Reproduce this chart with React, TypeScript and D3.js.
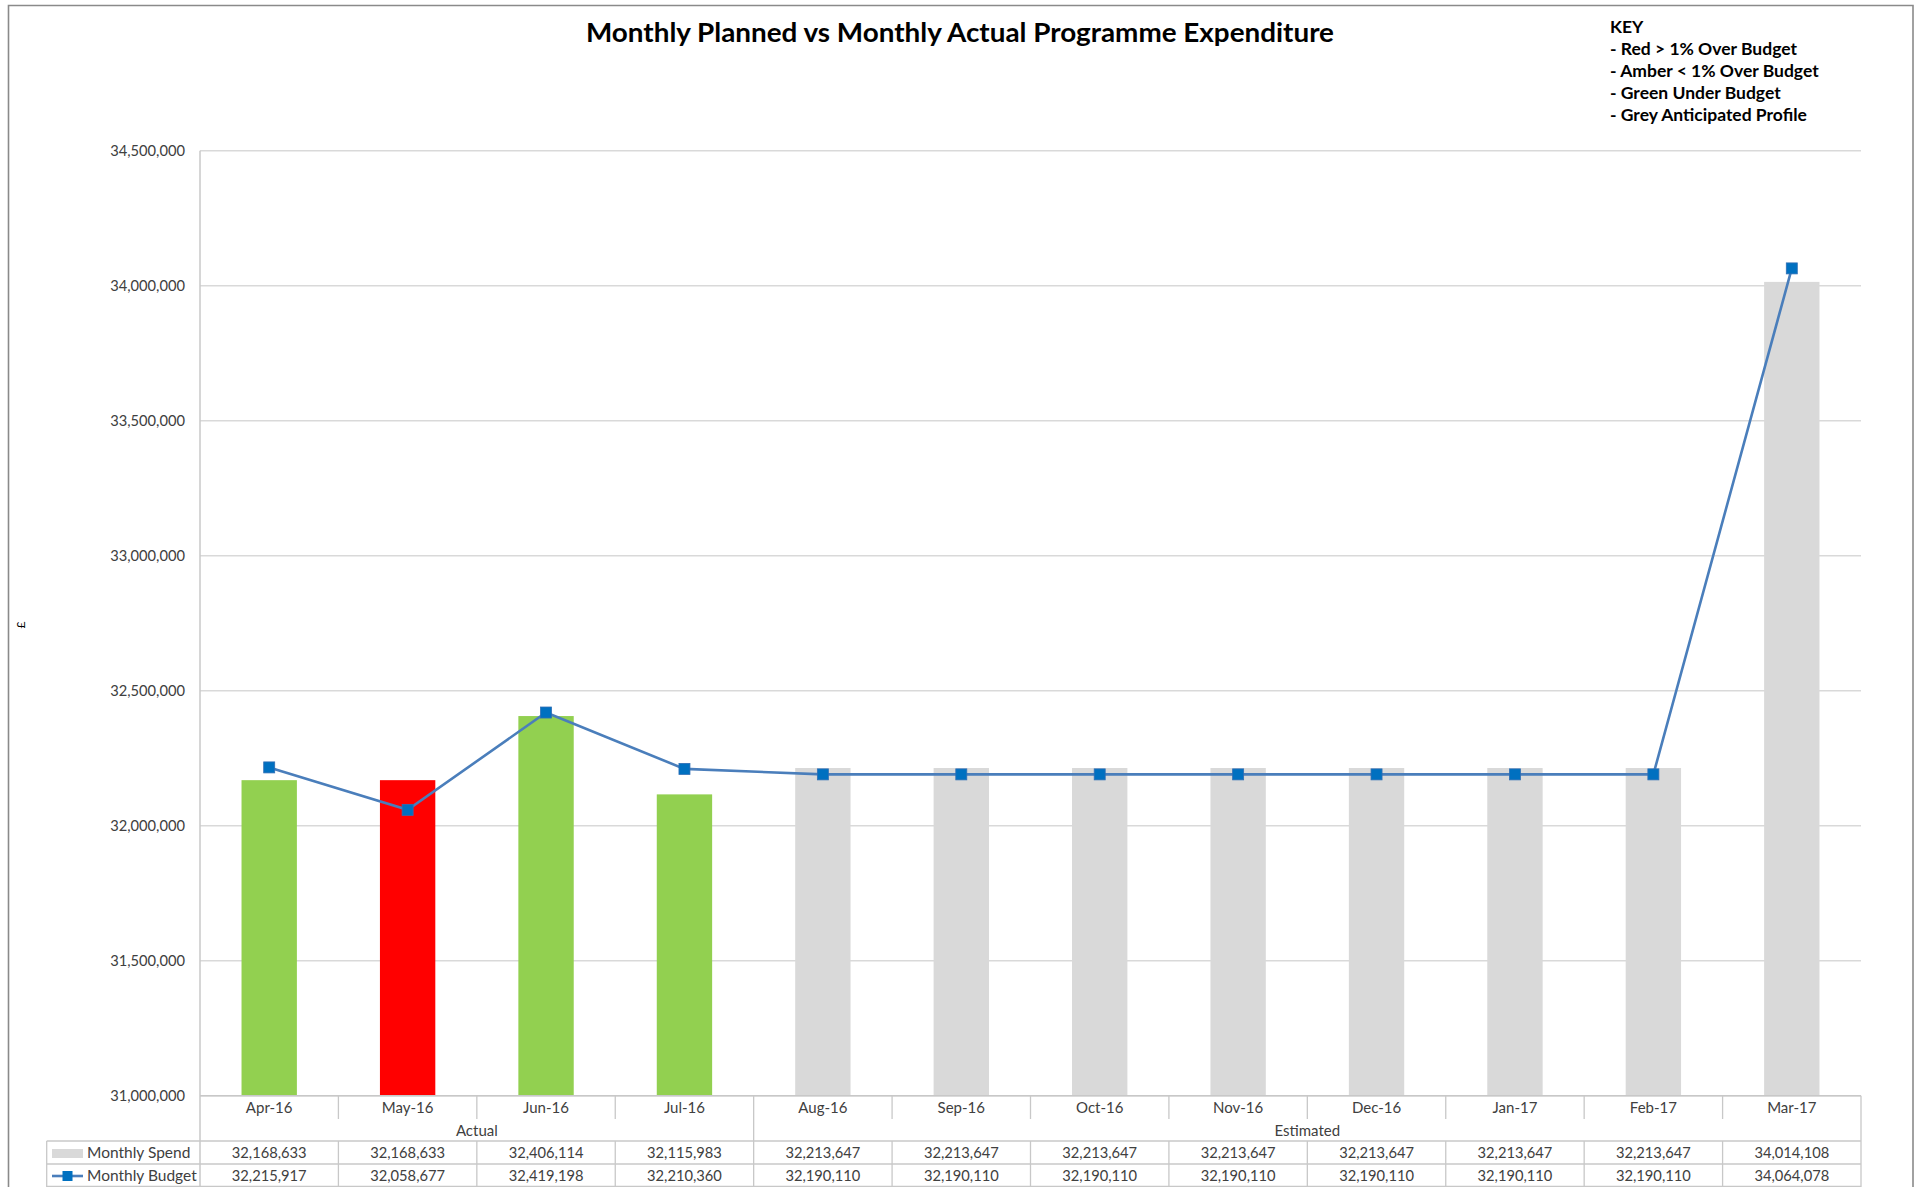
import React from "react";
import * as d3 from "d3";

// Programme expenditure by month
const months = [
  "Apr-16", "May-16", "Jun-16", "Jul-16", "Aug-16", "Sep-16",
  "Oct-16", "Nov-16", "Dec-16", "Jan-17", "Feb-17", "Mar-17",
];
const monthlySpend = [
  32168633, 32168633, 32406114, 32115983, 32213647, 32213647,
  32213647, 32213647, 32213647, 32213647, 32213647, 34014108,
];
const monthlyBudget = [
  32215917, 32058677, 32419198, 32210360, 32190110, 32190110,
  32190110, 32190110, 32190110, 32190110, 32190110, 34064078,
];
// RAG status of each month's spend
const spendStatus = [
  "under", "over", "under", "under", "anticipated", "anticipated",
  "anticipated", "anticipated", "anticipated", "anticipated", "anticipated", "anticipated",
];
const periodGroups = [
  { label: "Actual", from: 0, to: 3 },
  { label: "Estimated", from: 4, to: 11 },
];
const yTicks = [31000000, 31500000, 32000000, 32500000, 33000000, 33500000, 34000000, 34500000];
const keyLines = [
  "KEY",
  "- Red > 1% Over Budget",
  "- Amber < 1% Over Budget",
  "- Green Under Budget",
  "- Grey Anticipated Profile",
];

const statusColour: Record<string, string> = {
  over: "#FF0000",
  amber: "#FFC000",
  under: "#92D050",
  anticipated: "#D9D9D9",
};

const W = 1921;
const H = 1187;
const FONT = "Lato, 'Open Sans', sans-serif";
const TEXT = "#404040";
const GRID = "#D9D9D9";
const TABLE_LINE = "#C8C8C8";
const LINE_BLUE = "#4A7EBB";
const MARKER_BLUE = "#0070C0";

export default function App() {
  const plotLeft = 200;
  const plotRight = 1861;
  const plotTop = 150.7;
  const plotBottom = 1095.7;

  const x = d3
    .scaleBand<string>()
    .domain(months)
    .range([plotLeft, plotRight])
    .paddingInner(0.6)
    .paddingOuter(0.3);
  const step = x.step();
  const y = d3.scaleLinear().domain([31000000, 34500000]).range([plotBottom, plotTop]);
  const fmt = d3.format(",");
  const cx = (m: string) => (x(m) as number) + x.bandwidth() / 2;

  const budgetPath = d3
    .line<number>()
    .x((_, i) => cx(months[i]))
    .y((v) => y(v))(monthlyBudget) as string;

  // table geometry
  const catLabelY = 1108;
  const tickEnd = 1119;
  const groupLabelY = 1131;
  const tableTop = 1141;
  const rowMid = 1164;
  const tableBottom = 1187;
  const tableLeft = 46.7;
  const spendY = 1153;
  const budgetY = 1176;

  const boundaries = d3.range(0, months.length + 1).map((i) => plotLeft + i * step);
  const groupEdges = new Set<number>([0, ...periodGroups.map((g) => g.to + 1)]);

  return (
    <svg
      width={W}
      height={H}
      style={{ position: "fixed", left: 0, top: 0, background: "#fff" }}
      fontFamily={FONT}
    >
      <rect x={0} y={0} width={W} height={H} fill="#fff" />
      {/* chart frame */}
      <path
        d={`M8.5,${H + 2} L8.5,5.5 L1913,5.5 L1913,${H + 2}`}
        fill="none"
        stroke="#8A8A8A"
        strokeWidth={1.6}
      />

      {/* title */}
      <text
        x={960}
        y={42}
        textAnchor="middle"
        fontSize={27}
        fontWeight={700}
        fill="#000"
        textLength={748}
        lengthAdjust="spacingAndGlyphs"
      >
        Monthly Planned vs Monthly Actual Programme Expenditure
      </text>

      {/* key */}
      {keyLines.map((t, i) => (
        <text key={t} x={1610} y={33 + i * 22} fontSize={17.5} fontWeight={700} fill="#000">
          {t}
        </text>
      ))}

      {/* gridlines and y tick labels */}
      {yTicks.map((t) => (
        <g key={t}>
          <line x1={plotLeft} x2={plotRight} y1={y(t)} y2={y(t)} stroke={GRID} strokeWidth={1.5} />
          <text x={185} y={y(t)} dy="0.35em" textAnchor="end" fontSize={14.7} fill={TEXT}>
            {fmt(t)}
          </text>
        </g>
      ))}
      <text
        transform={`translate(25,625) rotate(-90)`}
        textAnchor="middle"
        fontSize={12}
        fill="#000"
      >
        £
      </text>

      {/* spend bars */}
      {months.map((m, i) => (
        <rect
          key={m}
          x={x(m)}
          y={y(monthlySpend[i])}
          width={x.bandwidth()}
          height={plotBottom - y(monthlySpend[i])}
          fill={statusColour[spendStatus[i]]}
        />
      ))}

      {/* budget line */}
      <path d={budgetPath} fill="none" stroke={LINE_BLUE} strokeWidth={2.6} />
      {monthlyBudget.map((v, i) => (
        <rect
          key={i}
          x={cx(months[i]) - 5.5}
          y={y(v) - 5.5}
          width={11}
          height={11}
          fill={MARKER_BLUE}
          stroke="#2F6EB5"
          strokeWidth={0.8}
        />
      ))}

      {/* axes */}
      <line x1={plotLeft} x2={plotLeft} y1={plotTop} y2={tableBottom} stroke={TABLE_LINE} strokeWidth={1.5} />
      <line x1={plotLeft} x2={plotRight} y1={plotBottom} y2={plotBottom} stroke={TABLE_LINE} strokeWidth={1.5} />

      {/* category boundaries */}
      {boundaries.map((bx, i) => {
        if (i === 0) return null;
        const full = groupEdges.has(i) || i === months.length;
        return (
          <line
            key={i}
            x1={bx}
            x2={bx}
            y1={plotBottom}
            y2={full ? tableBottom : tickEnd}
            stroke={TABLE_LINE}
            strokeWidth={1.3}
          />
        );
      })}
      {boundaries.map((bx, i) =>
        i === 0 || i === months.length || groupEdges.has(i) ? null : (
          <line key={`r${i}`} x1={bx} x2={bx} y1={tableTop} y2={tableBottom} stroke={TABLE_LINE} strokeWidth={1.3} />
        )
      )}

      {/* category labels */}
      {months.map((m) => (
        <text key={m} x={cx(m)} y={catLabelY} dy="0.35em" textAnchor="middle" fontSize={15} fill={TEXT}>
          {m}
        </text>
      ))}
      {periodGroups.map((g) => (
        <text
          key={g.label}
          x={plotLeft + ((g.from + g.to + 1) / 2) * step}
          y={groupLabelY}
          dy="0.35em"
          textAnchor="middle"
          fontSize={15}
          fill={TEXT}
        >
          {g.label}
        </text>
      ))}

      {/* data table */}
      <line x1={tableLeft} x2={plotRight} y1={tableTop} y2={tableTop} stroke={TABLE_LINE} strokeWidth={1.3} />
      <line x1={tableLeft} x2={plotRight} y1={rowMid} y2={rowMid} stroke={TABLE_LINE} strokeWidth={1.3} />
      <line x1={tableLeft} x2={plotRight} y1={tableBottom - 0.5} y2={tableBottom - 0.5} stroke={TABLE_LINE} strokeWidth={1.3} />
      <line x1={tableLeft} x2={tableLeft} y1={tableTop} y2={tableBottom} stroke={TABLE_LINE} strokeWidth={1.3} />

      <rect x={52} y={1149} width={31} height={9} fill={statusColour.anticipated} />
      <text x={87} y={spendY} dy="0.35em" fontSize={15.5} fill={TEXT}>
        Monthly Spend
      </text>
      <line x1={52} x2={83} y1={budgetY} y2={budgetY} stroke={LINE_BLUE} strokeWidth={2.6} />
      <rect x={62.5} y={budgetY - 5} width={10} height={10} fill={MARKER_BLUE} />
      <text x={87} y={budgetY} dy="0.35em" fontSize={15.5} fill={TEXT}>
        Monthly Budget
      </text>

      {months.map((m, i) => (
        <g key={`t${m}`}>
          <text x={cx(m)} y={spendY} dy="0.35em" textAnchor="middle" fontSize={14.7} fill={TEXT}>
            {fmt(monthlySpend[i])}
          </text>
          <text x={cx(m)} y={budgetY} dy="0.35em" textAnchor="middle" fontSize={14.7} fill={TEXT}>
            {fmt(monthlyBudget[i])}
          </text>
        </g>
      ))}
    </svg>
  );
}
